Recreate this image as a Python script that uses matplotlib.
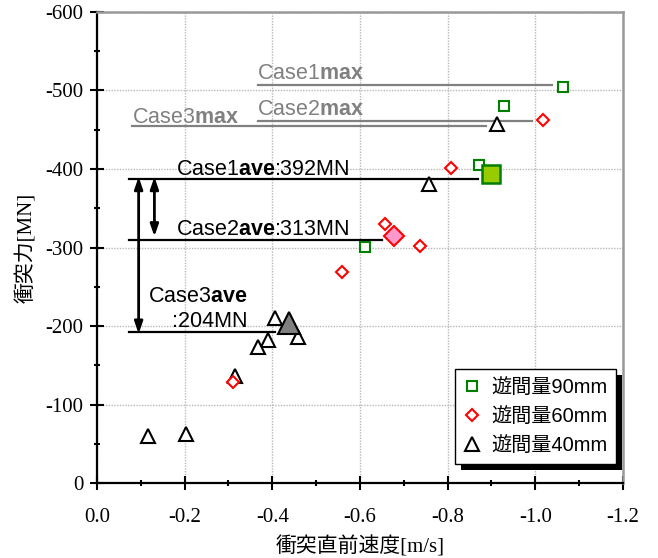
import matplotlib
matplotlib.use("Agg")
import matplotlib.pyplot as plt
from matplotlib.patches import Rectangle
from matplotlib.ticker import MultipleLocator, FormatStrFormatter
from matplotlib.transforms import IdentityTransform

plt.rcParams["mathtext.fontset"] = "custom"
plt.rcParams["mathtext.rm"] = "Liberation Sans"
plt.rcParams["mathtext.bf"] = "Liberation Sans:bold"

# ---------------- data ----------------
sq_x = [-1.062, -0.929, -0.872, -0.612]          # 遊間量90mm
sq_y = [-504, -480, -405, -301]
dm_x = [-1.018, -0.808, -0.656, -0.737, -0.560, -0.311]   # 遊間量60mm
dm_y = [-462, -401, -330, -302, -269, -129]
tr_x = [-0.913, -0.758, -0.405, -0.459, -0.391, -0.368, -0.314, -0.117, -0.204]  # 遊間量40mm
tr_y = [-457, -381, -210, -186, -182, -173, -136, -60, -62]

ave_x = [-0.900, -0.678, -0.437]
ave_y = [-394, -315, -204]

legend_labels = ["遊間量90mm", "遊間量60mm", "遊間量40mm"]

# max lines (gray)
max_names = ["Case1", "Case2", "Case3"]
max_line_y = [-507, -461, -455]
max_line_x0 = [-0.368, -0.368, -0.081]
max_line_x1 = [-1.039, -0.993, -0.888]
max_text_x = [-0.364, -0.364, -0.079]
max_text_y = [-514.6, -468.8, -458.6]

# ave lines (black)
ave_names = ["Case1", "Case2", "Case3"]
ave_vals = [392, 313, 204]
ave_line_y = [-387, -310, -192]
ave_line_x0 = [-0.074, -0.074, -0.074]
ave_line_x1 = [-0.870, -0.651, -0.407]

xticks = [0.0, -0.2, -0.4, -0.6, -0.8, -1.0, -1.2]
yticks = [0, -100, -200, -300, -400, -500, -600]

# ---------------- figure ----------------
fig = plt.figure(figsize=(6.58, 5.58), dpi=100)
ax = fig.add_axes([0.1474, 0.1344, 0.7994, 0.8441])

ax.set_xlim(0, -1.2)
ax.set_ylim(0, -600)
ax.set_xticks(xticks)
ax.set_yticks(yticks)
ax.xaxis.set_minor_locator(MultipleLocator(0.1))
ax.yaxis.set_minor_locator(MultipleLocator(50))
ax.xaxis.set_major_formatter(FormatStrFormatter("%.1f"))
ax.yaxis.set_major_formatter(FormatStrFormatter("%d"))

ax.grid(True, which="major", linestyle=(0, (1, 1)), color="#b8b8b8", linewidth=1.0, zorder=0)
ax.set_axisbelow(True)

for s in ["left", "bottom"]:
    ax.spines[s].set_color("black")
    ax.spines[s].set_linewidth(1.6)
for s in ["top", "right"]:
    ax.spines[s].set_color("#999999")
    ax.spines[s].set_linewidth(1.8)

ax.tick_params(which="major", direction="inout", length=9.4, width=1.5, colors="black")
ax.tick_params(which="minor", direction="inout", length=5, width=1.5, colors="black")
ax.tick_params(top=False, right=False, which="both")
ax.tick_params(axis="y", which="major", pad=5)
ax.tick_params(axis="x", which="major", pad=13)
for lab in ax.get_xticklabels() + ax.get_yticklabels():
    lab.set_fontfamily("Liberation Serif")
    lab.set_fontsize(15)

lab_family = ["Liberation Serif", "Noto Sans CJK JP"]
ax.set_xlabel("衝突直前速度[m/s]", family=lab_family, fontsize=15, labelpad=7)
ax.set_ylabel("衝突力[MN]", family=lab_family, fontsize=15, labelpad=6)

# ---------------- lines ----------------
for y, x0, x1 in zip(max_line_y, max_line_x0, max_line_x1):
    ax.plot([x0, x1], [y, y], color="#808080", lw=1.6, zorder=2)
for y, x0, x1 in zip(ave_line_y, ave_line_x0, ave_line_x1):
    ax.plot([x0, x1], [y, y], color="black", lw=1.6, zorder=2)

# double arrows
arr = dict(arrowstyle="<|-|>,head_length=0.7,head_width=0.24", color="black",
           lw=2.0, shrinkA=0, shrinkB=0)
ax.annotate("", xy=(-0.095, ave_line_y[0] - 3), xytext=(-0.095, ave_line_y[2] + 2),
            arrowprops=arr, zorder=3)
ax.annotate("", xy=(-0.131, ave_line_y[0] - 3), xytext=(-0.131, ave_line_y[1] - 4),
            arrowprops=arr, zorder=3)

# ---------------- markers ----------------
ax.plot(sq_x, sq_y, ls="none", marker="s", ms=7.8, mfc="white", mec="#008000", mew=1.5, zorder=4)
ax.plot(tr_x, tr_y, ls="none", marker="^", ms=9.5, mfc="white", mec="black", mew=1.5, zorder=4)
ax.plot(dm_x, dm_y, ls="none", marker="D", ms=6.0, mfc="white", mec="#ff0000", mew=1.5, zorder=4.2)

ax.plot(ave_x[0], ave_y[0], ls="none", marker="s", ms=13.5, mfc="#99cc00", mec="#008000", mew=1.8, zorder=5)
ax.plot(ave_x[1], ave_y[1], ls="none", marker="D", ms=10, mfc="#ff99cc", mec="#ff0000", mew=1.5, zorder=5)
ax.plot(ave_x[2], ave_y[2], ls="none", marker="^", ms=15.5, mfc="#808080", mec="black", mew=1.5, zorder=5)

# ---------------- texts ----------------
FS = 15.5
for name, tx, ty in zip(max_names, max_text_x, max_text_y):
    ax.text(tx, ty, name + r"$\mathbf{max}$", color="#808080", fontsize=FS,
            family="Liberation Sans", ha="left", va="baseline", zorder=6)

ave_pos = [(-0.181, -392.4), (-0.181, -315.9)]
for name, val, (tx, ty) in zip(ave_names[:2], ave_vals[:2], ave_pos):
    ax.text(tx, ty, name + r"$\mathbf{ave}$" + ":%dMN" % val, color="black", fontsize=FS,
            family="Liberation Sans", ha="left", va="baseline", zorder=6)
ax.text(-0.117, -230.6, ave_names[2] + r"$\mathbf{ave}$", color="black", fontsize=FS,
        family="Liberation Sans", ha="left", va="baseline", zorder=6)
ax.text(-0.170, -198.7, ":%dMN" % ave_vals[2], color="black", fontsize=FS,
        family="Liberation Sans", ha="left", va="baseline", zorder=6)

# ---------------- legend ----------------
h1, = ax.plot([], [], ls="none", marker="s", ms=7.8, mfc="white", mec="#008000", mew=1.5)
h2, = ax.plot([], [], ls="none", marker="D", ms=6.0, mfc="white", mec="#ff0000", mew=1.5)
h3, = ax.plot([], [], ls="none", marker="^", ms=9.5, mfc="white", mec="black", mew=1.5)
leg = ax.legend([h1, h2, h3], legend_labels, loc="lower right",
                bbox_to_anchor=(0.987, 0.040),
                prop={"family": ["Liberation Sans", "Noto Sans CJK JP"], "size": 14.5},
                frameon=True, fancybox=False, framealpha=1, edgecolor="black",
                handlelength=0.8, handletextpad=0.55, borderpad=0.45, labelspacing=0.5,
                borderaxespad=0)
leg.get_frame().set_linewidth(1.0)
leg.set_zorder(8)

fig.canvas.draw()
bb = leg.get_window_extent()
shadow = Rectangle((bb.x0 + 6, bb.y0 - 6), bb.width, bb.height, transform=IdentityTransform(),
                   facecolor="black", edgecolor="none", zorder=7.5, clip_on=False)
ax.add_artist(shadow)

fig.savefig("out.png", dpi=100)
